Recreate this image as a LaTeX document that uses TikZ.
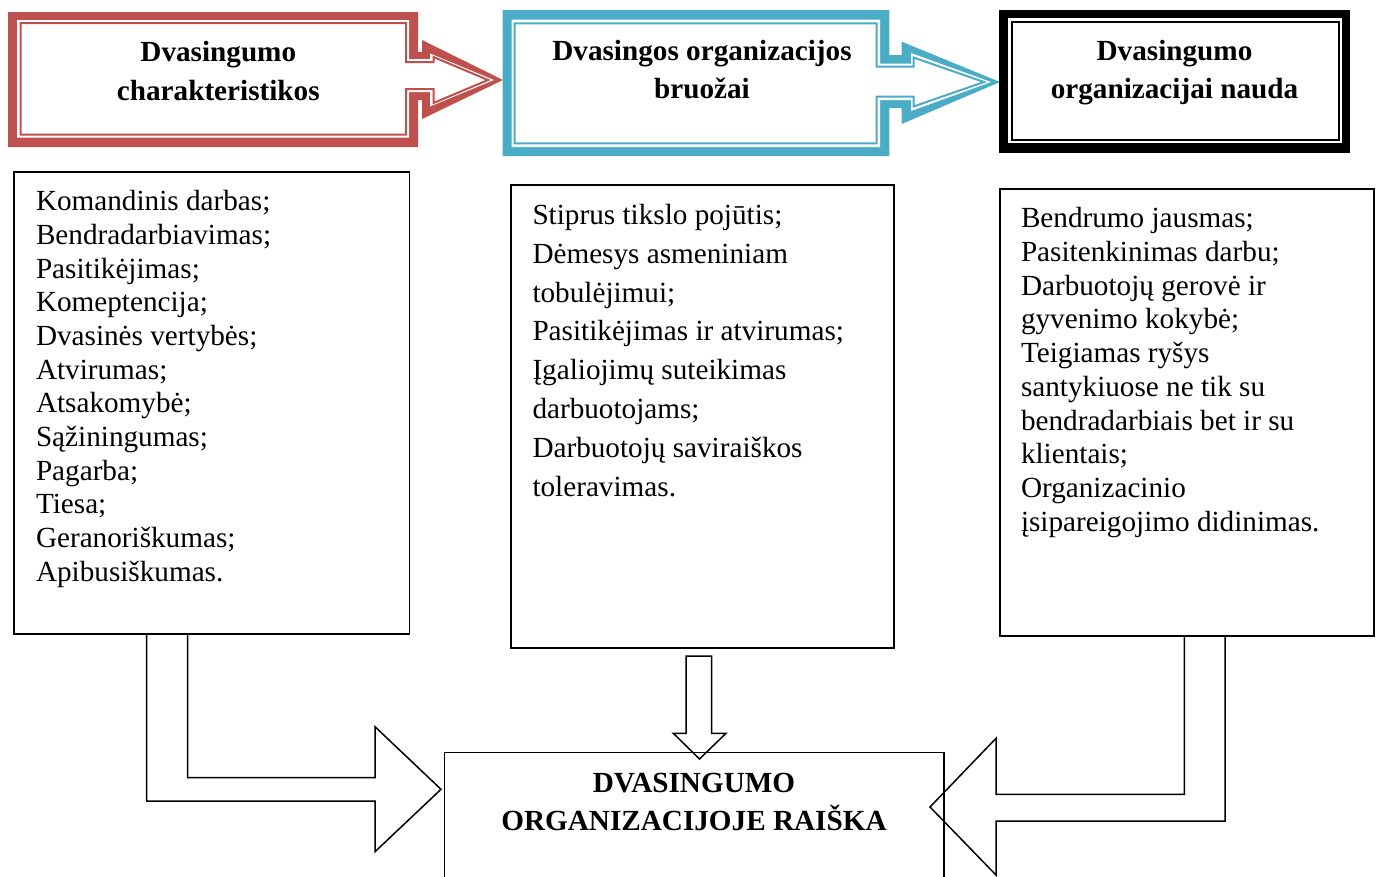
\documentclass[tikz,border=0pt]{standalone}
\usepackage{fontspec}
\setmainfont{Liberation Serif}
\usetikzlibrary{calc}
\definecolor{hdrred}{HTML}{C0504D}
\definecolor{hdrblue}{HTML}{4BACC6}
\begin{document}
\begin{tikzpicture}[x=1pt,y=-1pt,
  listbox/.style={draw=black, line width=1.5pt, rectangle, inner sep=0pt, outer sep=0pt, anchor=north west},
  listtext/.style={anchor=north west, align=left, inner sep=0pt, outer sep=0pt, font=\fontsize{29.2}{33.7}\selectfont},
  widetext/.style={listtext, font=\fontsize{29.2}{38.9}\selectfont},
  headtext/.style={anchor=north, align=center, inner sep=0pt, outer sep=0pt, font=\fontsize{29.2}{38.3}\selectfont\bfseries},
  thinline/.style={line width=2pt, line join=miter},
  blockarrow/.style={draw=black, line width=1.5pt, line join=miter},
]
\useasboundingbox (0,0) rectangle (1379,876);
\clip (0,0) rectangle (1379,876);

% ---- header 1: red callout with thick-thin border ----
\fill[hdrred] (8,12) -- (418,12) -- (418,52) -- (422,52) -- (422,40) -- (503,80)
  -- (422,119) -- (422,100) -- (418,100) -- (418,147) -- (8,147) -- cycle;
\fill[white] (17,20) -- (409,20) -- (409,59) -- (430,59) -- (430,53.5) -- (494,80)
  -- (430,106.5) -- (430,92) -- (409,92) -- (409,137.5) -- (17,137.5) -- cycle;
\draw[hdrred, thinline] (20.5,23) -- (406,23) -- (406,62) -- (433.5,62) -- (433.5,57)
  -- (488,80) -- (433.5,103) -- (433.5,89) -- (406,89) -- (406,134.5) -- (20.5,134.5) -- cycle;
\node[headtext] (hdrR) at (218.3,34.9) {\strut Dvasingumo\\charakteristikos};

% ---- header 2: blue callout ----
\fill[hdrblue] (502.7,10) -- (889.3,10) -- (889.3,55) -- (901.7,55) -- (901.7,41.7)
  -- (1000,82) -- (901.7,124) -- (901.7,108) -- (889.3,108) -- (889.3,156) -- (502.7,156) -- cycle;
\fill[white] (511.7,19.5) -- (880,19.5) -- (880,63.5) -- (911,63.5) -- (911,53)
  -- (991,82) -- (911,111) -- (911,100) -- (880,100) -- (880,147) -- (511.7,147) -- cycle;
\draw[hdrblue, thinline] (514.5,23.3) -- (876.5,23.3) -- (876.5,66.7) -- (913.5,66.7)
  -- (913.5,57.5) -- (984,82) -- (913.5,106.5) -- (913.5,96.7) -- (876.5,96.7)
  -- (876.5,143.3) -- (514.5,143.3) -- cycle;
\node[headtext] (hdrB) at (702,33.2) {\strut Dvasingos organizacijos\\bruožai};

% ---- header 3: black double frame ----
\fill[black] (999.3,10) rectangle (1350,153.3);
\fill[white] (1008.3,18.3) rectangle (1341.7,143.3);
\draw[black, line width=2pt] (1012,21.7) rectangle (1338.7,140.3);
\node[headtext] (hdrK) at (1174.5,33.2) {\strut Dvasingumo\\organizacijai nauda};

% ---- list boxes ----
\node[listbox, minimum width=395.3pt, minimum height=462pt] (lbox) at (14,172) {};
\node[listtext] (ltext) at (36,187) {\strut Komandinis darbas;\\Bendradarbiavimas;\\Pasitikėjimas;\\Komeptencija;\\Dvasinės vertybės;\\Atvirumas;\\Atsakomybė;\\Sąžiningumas;\\Pagarba;\\Tiesa;\\Geranoriškumas;\\Apibusiškumas.};

\node[listbox, minimum width=383pt, minimum height=463pt] (mbox) at (511,185) {};
\node[widetext] (mtext) at (532.5,197) {\strut Stiprus tikslo pojūtis;\\Dėmesys asmeniniam\\tobulėjimui;\\Pasitikėjimas ir atvirumas;\\Įgaliojimų suteikimas\\darbuotojams;\\Darbuotojų saviraiškos\\toleravimas.};

\node[listbox, minimum width=374pt, minimum height=447pt] (rbox) at (1000,189) {};
\node[listtext] (rtext) at (1021,204.3) {\strut Bendrumo jausmas;\\Pasitenkinimas darbu;\\Darbuotojų gerovė ir\\gyvenimo kokybė;\\Teigiamas ryšys\\santykiuose ne tik su\\bendradarbiais bet ir su\\klientais;\\Organizacinio\\įsipareigojimo didinimas.};

% ---- result box ----
\node[listbox, minimum width=499.5pt, minimum height=200pt] (bbox) at (444.5,752.5) {};
\node[headtext] (btext) at (694,765.5) {\strut DVASINGUMO\\ORGANIZACIJOJE RAIŠKA};

% ---- block arrows into the result box ----
\draw[blockarrow] ([xshift=-65pt]lbox.south) -- (146.7,801) -- (375,801) -- (375,851.7)
  -- (441,789.3) -- (375,726.7) -- (375,777.7) -- (187.7,777.7) -- ([xshift=-24pt]lbox.south);
\draw[blockarrow] ([xshift=-16.5pt,yshift=-8pt]mbox.south) -- (711.7,656) -- (711.7,733.3)
  -- (726,733.3) -- (699.5,759) -- (673.3,733.3) -- (686,733.3) -- cycle;
\draw[blockarrow] ([xshift=-2.7pt]rbox.south) -- (1184.3,794.3) -- (996,794.3) -- (996,738.3)
  -- (930,807) -- (996,875) -- (996,821) -- (1225,821) -- ([xshift=38pt]rbox.south);
\end{tikzpicture}
\end{document}
